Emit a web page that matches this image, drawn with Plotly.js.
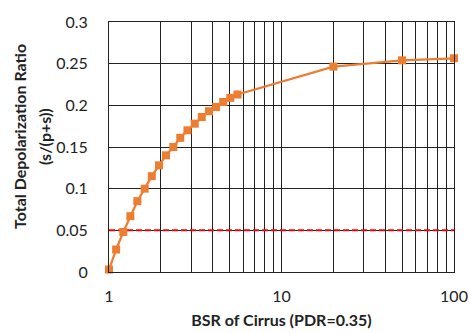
<!DOCTYPE html>
<html>
<head>
<meta charset="utf-8">
<script src="https://cdn.plot.ly/plotly-3.0.1.min.js"></script>
<style>html,body{margin:0;padding:0;background:#fff;}#chart{width:469px;height:333px;}</style>
</head>
<body>
<div id="chart"></div>
<script>
// BSR of cirrus (x) and total depolarization ratio (y)
var bsr = [1, 1.1, 1.21, 1.33, 1.46, 1.61, 1.77, 1.95, 2.14, 2.36, 2.59, 2.85, 3.14, 3.45, 3.8, 4.18, 4.59, 5.05, 5.56, 20, 50, 100];
var depol = [0.003, 0.027, 0.048, 0.067, 0.085, 0.100, 0.115, 0.128, 0.140, 0.150, 0.161, 0.170, 0.178, 0.186, 0.193, 0.198, 0.204, 0.209, 0.213, 0.2465, 0.254, 0.2565];
// threshold line
var thrX = [1, 100];
var thrY = [0.05, 0.05];
// axis ticks
var xTickVals = [1,2,3,4,5,6,7,8,9,10,20,30,40,50,60,70,80,90,100];
var xTickText = ['1','','','','','','','','','10','','','','','','','','','100'];
var yTickVals = [0, 0.05, 0.1, 0.15, 0.2, 0.25, 0.3];
var yTickText = ['0','0.05','0.1','0.15','0.2','0.25','0.3'];
var yTitleLines = ['Total Depolarization Ratio', '(s/(p+s))'];

var fontFam = 'Lato, "Open Sans", sans-serif';
var traces = [
  {x: thrX, y: thrY, type: 'scatter', mode: 'lines',
   line: {color: '#FF0000', width: 2, dash: '6px,3px'}, hoverinfo: 'skip'},
  {x: bsr, y: depol, type: 'scatter', mode: 'lines+markers', cliponaxis: false,
   line: {color: '#ED7D31', width: 2.25},
   marker: {symbol: 'square', size: 8, color: '#ED7D31'}}
];
var layout = {
  width: 469, height: 333,
  margin: {l: 109, r: 15, t: 22, b: 61},
  paper_bgcolor: '#fff', plot_bgcolor: '#fff',
  showlegend: false,
  font: {family: fontFam, size: 16, color: '#222'},
  xaxis: {
    type: 'log', range: [0, 2],
    tickmode: 'array', tickvals: xTickVals, ticktext: xTickText,
    showgrid: true, gridcolor: '#222', gridwidth: 1,
    showline: true, linecolor: '#222', linewidth: 1, mirror: true,
    zeroline: false, ticks: '', ticklabelstandoff: 10,
    tickfont: {size: 16, color: '#222'},
    title: {text: '<b>BSR of Cirrus (PDR=0.35)</b>', font: {size: 16, color: '#222'}, standoff: 10}
  },
  yaxis: {
    range: [0, 0.3],
    tickmode: 'array', tickvals: yTickVals, ticktext: yTickText,
    showgrid: true, gridcolor: '#222', gridwidth: 1,
    showline: true, linecolor: '#222', linewidth: 1, mirror: true,
    zeroline: false, ticks: '', ticklabelstandoff: 17,
    tickfont: {size: 16, color: '#222'},
    title: {text: ''}
  },
  annotations: [
    {text: '<b>' + yTitleLines[0] + '</b>', textangle: -90, xref: 'paper', yref: 'paper',
     x: 0, y: 0.5, xanchor: 'center', yanchor: 'middle', xshift: -90, yshift: 10,
     showarrow: false, font: {size: 16, color: '#222'}},
    {text: '<b>' + yTitleLines[1] + '</b>', textangle: -90, xref: 'paper', yref: 'paper',
     x: 0, y: 0.5, xanchor: 'center', yanchor: 'middle', xshift: -65, yshift: 10,
     showarrow: false, font: {size: 16, color: '#222'}}
  ]
};
Plotly.newPlot('chart', traces, layout, {displayModeBar: false, staticPlot: true});
</script>
</body>
</html>
